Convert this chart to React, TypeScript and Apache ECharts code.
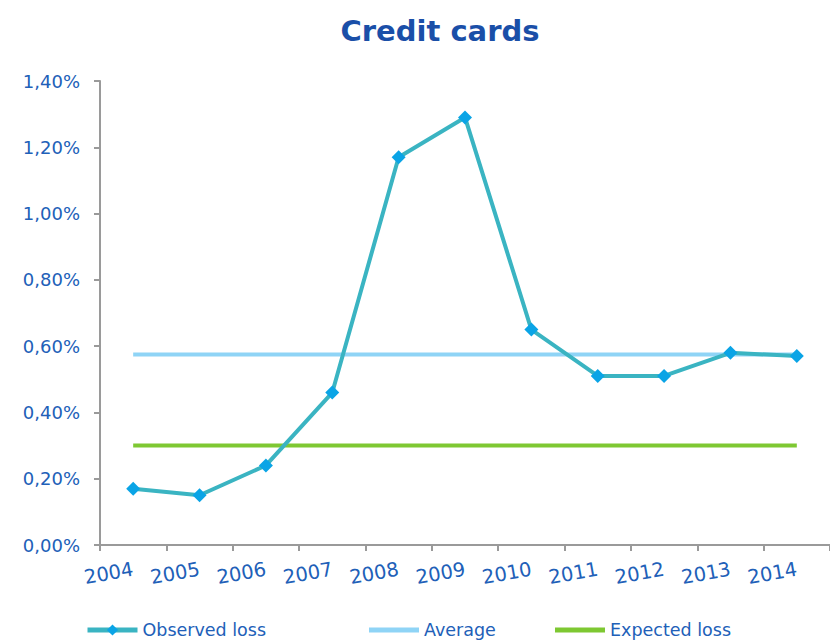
import React, { useEffect, useRef } from "react";
import * as echarts from "echarts";

const years = ["2004", "2005", "2006", "2007", "2008", "2009", "2010", "2011", "2012", "2013", "2014"];
const observedLoss = [0.17, 0.15, 0.24, 0.46, 1.17, 1.29, 0.65, 0.51, 0.51, 0.58, 0.57];
const averageLoss = [0.575, 0.575, 0.575, 0.575, 0.575, 0.575, 0.575, 0.575, 0.575, 0.575, 0.575];
const expectedLoss = [0.3, 0.3, 0.3, 0.3, 0.3, 0.3, 0.3, 0.3, 0.3, 0.3, 0.3];

const TEXT = "#2160b8";
const FONT = "DejaVu Sans";

export default function App() {
  const ref = useRef<HTMLDivElement>(null);
  useEffect(() => {
    const chart = echarts.init(ref.current!, null, { renderer: "svg" });
    const legendText = { color: TEXT, fontFamily: FONT, fontSize: 17.5, lineHeight: 20 };
    chart.setOption({
      animation: false,
      backgroundColor: "#ffffff",
      title: {
        text: "Credit cards",
        left: 435,
        textAlign: "center",
        top: 11,
        textStyle: { color: "#1a4fa8", fontFamily: FONT, fontWeight: "bold", fontSize: 29 },
      },
      grid: { left: 100, right: -7, top: 81, bottom: 96, containLabel: false },
      legend: [
        {
          data: ["Observed loss"], left: 80, top: 615, itemWidth: 50, itemHeight: 14, itemGap: 6,
          lineStyle: { width: 5 },
          textStyle: legendText,
        },
        {
          data: [{ name: "Average", icon: "rect" }], left: 364, top: 615, itemWidth: 50, itemHeight: 5,
          textStyle: legendText,
        },
        {
          data: [{ name: "Expected loss", icon: "rect" }], left: 550, top: 615, itemWidth: 50, itemHeight: 5,
          textStyle: legendText,
        },
      ],
      xAxis: {
        type: "category",
        data: years,
        boundaryGap: true,
        axisLine: { lineStyle: { color: "#9a9a9a", width: 2 } },
        axisTick: { show: true, length: 6, interval: 0, lineStyle: { color: "#9a9a9a", width: 2 } },
        axisLabel: {
          color: TEXT, fontFamily: FONT, fontSize: 19.5, rotate: 10, margin: 24,
          interval: 0, hideOverlap: false,
        },
      },
      yAxis: {
        type: "value",
        min: 0,
        max: 1.4,
        interval: 0.2,
        splitLine: { show: false },
        axisLine: { show: true, lineStyle: { color: "#9a9a9a", width: 2 } },
        axisTick: { show: true, length: 6, lineStyle: { color: "#9a9a9a", width: 2 } },
        axisLabel: {
          color: TEXT, fontFamily: FONT, fontSize: 18, margin: 20,
          formatter: (v: number) => v.toFixed(2).replace(".", ",") + "%",
        },
      },
      series: [
        {
          name: "Average",
          type: "line",
          data: averageLoss,
          symbol: "none",
          lineStyle: { color: "#8fd4f6", width: 4 },
          itemStyle: { color: "#8fd4f6" },
          z: 2,
        },
        {
          name: "Expected loss",
          type: "line",
          data: expectedLoss,
          symbol: "none",
          lineStyle: { color: "#7ec832", width: 4 },
          itemStyle: { color: "#7ec832" },
          z: 2,
        },
        {
          name: "Observed loss",
          type: "line",
          data: observedLoss,
          symbol: "diamond",
          symbolSize: 14,
          lineStyle: { color: "#3ab4c2", width: 4 },
          itemStyle: { color: "#0aa4e6", borderWidth: 0 },
          z: 3,
        },
      ],
    });
    return () => chart.dispose();
  }, []);
  return <div ref={ref} style={{ width: 830, height: 641, position: "absolute", left: 0, top: 0 }} />;
}
